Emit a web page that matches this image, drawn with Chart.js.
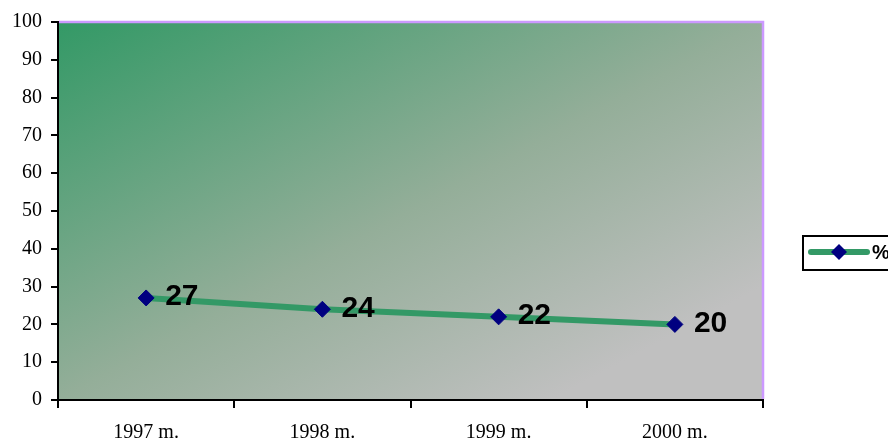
<!DOCTYPE html>
<html>
<head>
<meta charset="utf-8">
<title>%</title>
<script src="https://cdn.jsdelivr.net/npm/chart.js@4.4.1/dist/chart.umd.min.js"></script>
<style>
  html, body { margin: 0; padding: 0; background: #fff; overflow: hidden; }
  canvas { display: block; }
</style>
</head>
<body>
<canvas id="lineChart" width="888" height="442"></canvas>
<script>
// data
const categories = ['1997 m.', '1998 m.', '1999 m.', '2000 m.'];
const percentValues = [27, 24, 22, 20];
const seriesName = '%';
const yMin = 0, yMax = 100, yStep = 10;

const serif = '"Liberation Serif", "Times New Roman", serif';
const sans = '"Liberation Sans", Arial, sans-serif';

/* ===== plugins ===== */

// corner-to-corner green -> grey fill of the plot area (Excel style)
const areaFill = {
  id: 'areaFill',
  beforeDraw(chart) {
    const { ctx, chartArea: a } = chart;
    ctx.save();
    ctx.translate(a.left, a.top);
    ctx.scale(a.right - a.left, a.bottom - a.top);
    const g = ctx.createLinearGradient(0, 0, 1, 1);
    g.addColorStop(0, '#339966');
    g.addColorStop(0.5, '#94ae99');
    g.addColorStop(0.85, '#c0c0c0');
    g.addColorStop(1, '#c0c0c0');
    ctx.fillStyle = g;
    ctx.fillRect(0, 0, 1, 1);
    ctx.restore();
  },
  beforeDatasetsDraw(chart) {
    // violet frame on top and right
    const { ctx, chartArea: a } = chart;
    ctx.save();
    ctx.strokeStyle = '#cc99ff';
    ctx.lineWidth = 2.5;
    ctx.beginPath();
    ctx.moveTo(a.left + 1, a.top);
    ctx.lineTo(a.right, a.top);
    ctx.lineTo(a.right, a.bottom - 1);
    ctx.stroke();
    ctx.restore();
  }
};

// big bold numbers to the right of each point
const pointValues = {
  id: 'pointValues',
  afterDatasetsDraw(chart) {
    const { ctx } = chart;
    const meta = chart.getDatasetMeta(0);
    const vals = chart.data.datasets[0].data;
    ctx.save();
    ctx.font = 'bold 30px ' + sans;
    ctx.fillStyle = '#000';
    ctx.textAlign = 'left';
    ctx.textBaseline = 'middle';
    meta.data.forEach((pt, i) => {
      ctx.fillText(String(vals[i]), pt.x + 19, pt.y - 1);
    });
    ctx.restore();
  }
};

// legend box at the right, cut by the page edge
const sideLegend = {
  id: 'sideLegend',
  afterDraw(chart) {
    const { ctx } = chart;
    const ds = chart.data.datasets[0];
    const bx = 803, by = 236, bh = 34;
    const cy = by + bh / 2 - 1;
    ctx.save();
    ctx.strokeStyle = '#000';
    ctx.lineWidth = 2;
    ctx.strokeRect(bx, by, 120, bh);
    ctx.strokeStyle = ds.borderColor;
    ctx.lineWidth = 6;
    ctx.lineCap = 'round';
    ctx.beginPath();
    ctx.moveTo(811, cy);
    ctx.lineTo(867, cy);
    ctx.stroke();
    ctx.fillStyle = ds.pointBackgroundColor;
    ctx.beginPath();
    ctx.moveTo(839 - 8, cy);
    ctx.lineTo(839, cy - 8);
    ctx.lineTo(839 + 8, cy);
    ctx.lineTo(839, cy + 8);
    ctx.closePath();
    ctx.fill();
    ctx.fillStyle = '#000';
    ctx.font = 'bold 20px ' + sans;
    ctx.textBaseline = 'middle';
    ctx.fillText(ds.label, 872, cy + 1);
    ctx.restore();
  }
};

/* ===== chart ===== */
const chart = new Chart(document.getElementById('lineChart'), {
  type: 'line',
  data: {
    labels: categories,
    datasets: [{
      label: seriesName,
      data: percentValues,
      borderColor: '#339966',
      borderWidth: 6,
      tension: 0,
      pointStyle: 'rectRot',
      pointRadius: 8,
      pointHoverRadius: 8,
      pointBackgroundColor: '#000080',
      pointBorderColor: '#000080',
      pointBorderWidth: 1
    }]
  },
  options: {
    responsive: false,
    animation: false,
    events: [],
    layout: { padding: { top: 22, right: 125, left: 0, bottom: 0 } },
    plugins: {
      legend: { display: false },
      tooltip: { enabled: false }
    },
    scales: {
      x: {
        offset: true,
        grid: { offset: true, drawOnChartArea: false, drawTicks: true, tickLength: 8, color: '#000', lineWidth: 2 },
        border: { color: '#000', width: 2 },
        ticks: { color: '#000', font: { family: serif, size: 20 }, padding: 13, maxRotation: 0 },
        afterFit(s) { s.height = 42; }
      },
      y: {
        min: yMin, max: yMax,
        grid: { drawOnChartArea: false, drawTicks: true, tickLength: 7, color: '#000', lineWidth: 2 },
        border: { color: '#000', width: 2 },
        ticks: { stepSize: yStep, color: '#000', font: { family: serif, size: 20 }, padding: 9 },
        afterFit(s) { s.width = 58; }
      }
    }
  },
  plugins: [areaFill, pointValues, sideLegend]
});
</script>
</body>
</html>
